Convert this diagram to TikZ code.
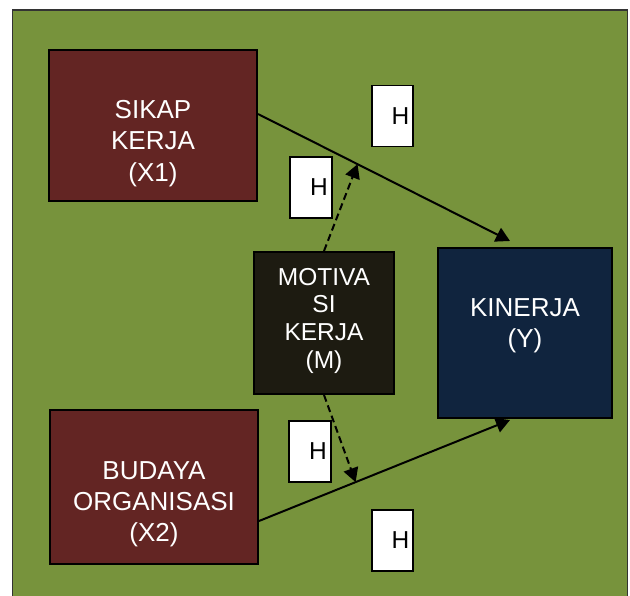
\documentclass[tikz,border=0pt]{standalone}
\usepackage{fontspec}
\setmainfont{Liberation Sans}
\usetikzlibrary{arrows.meta,calc}

\definecolor{bgolive}{RGB}{119,147,60}
\definecolor{varmaroon}{RGB}{99,37,35}
\definecolor{varnavy}{RGB}{16,36,62}
\definecolor{varblack}{RGB}{29,27,17}

\tikzset{
  varbox/.style={draw=black, line width=2pt, inner sep=0pt},
  vartext/.style={text=white, align=center, inner sep=0pt, anchor=north},
  hbox/.style={draw=black, fill=white, line width=1.6pt,
    minimum height=61pt, text width=33.5pt, inner xsep=4pt, inner ysep=0pt,
    align=right, font=\fontsize{24.5}{29}\selectfont},
  directpath/.style={line width=2pt, -{Triangle[length=14pt,width=15pt]}},
  mediated/.style={directpath, dash pattern=on 7pt off 4pt}
}

\begin{document}
\begin{tikzpicture}[x=1pt,y=-1pt]
\useasboundingbox (0,0) rectangle (630,596);

% background panel
\draw[fill=bgolive, draw=black!80, line width=1.3pt] (12.7,10) rectangle (627.5,606);

% variable boxes
\node[varbox, fill=varmaroon, minimum width=208pt, minimum height=151pt] (X1) at (153,125.5) {};
\node[varbox, fill=varblack,  minimum width=140pt, minimum height=142pt] (M)  at (324,323) {};
\node[varbox, fill=varnavy,   minimum width=174pt, minimum height=170pt] (Y)  at (525,333) {};
\node[varbox, fill=varmaroon, minimum width=208pt, minimum height=154pt] (X2) at (154,487) {};

% box labels
\node[vartext, font=\fontsize{26}{31.5}\selectfont] (tX1) at (153,100) {SIKAP\\KERJA\\(X1)};
\node[vartext, font=\fontsize{24.5}{27.7}\selectfont] (tM) at (324,267.7) {MOTIVA\\SI\\KERJA\\(M)};
\node[vartext, font=\fontsize{26}{31}\selectfont] (tY) at (525,298.3) {KINERJA\\(Y)};
\node[vartext, font=\fontsize{26}{31}\selectfont] (tX2) at (154,461) {BUDAYA\\ORGANISASI\\(X2)};

% hypothesis tags
\node[hbox, minimum width=41.5pt] (h1) at (392.5,116) {H};
\node[hbox, minimum width=41.5pt] (h2) at (311,187.5) {H};
\node[hbox, minimum width=41.5pt] (h3) at (310,451.5) {H};
\node[hbox, minimum width=41.5pt] (h4) at (392.5,540.5) {H};

% connector end points on the boxes
\coordinate (s1) at ([yshift=11.5pt]X1.east);
\coordinate (e1) at ([xshift=-15pt,yshift=6pt]Y.north);
\coordinate (s2) at ([yshift=-34pt]X2.east);
\coordinate (e2) at ([xshift=-15pt,yshift=-1pt]Y.south);

% direct paths
\draw[directpath] (s1) -- coordinate[pos=0.395] (m1) (e1);
\draw[directpath] (s2) -- coordinate[pos=0.385] (m2) (e2);

% moderating paths
\draw[mediated] (M.north) -- (m1);
\draw[mediated] (M.south) -- (m2);
\end{tikzpicture}
\end{document}
